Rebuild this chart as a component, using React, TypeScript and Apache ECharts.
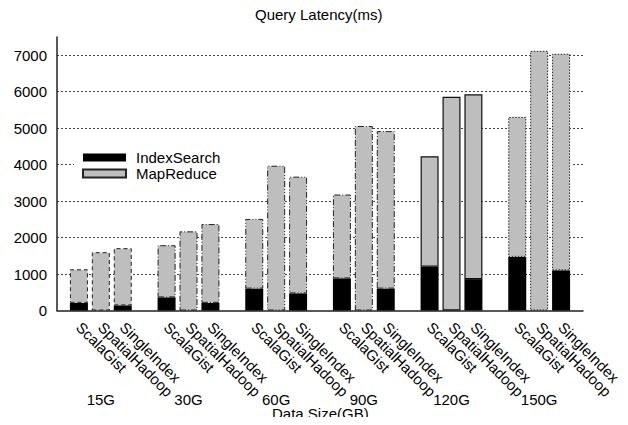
import React, { useEffect, useRef } from "react";
import * as echarts from "echarts";

const groups = ["15G", "30G", "60G", "90G", "120G", "150G"];
const methods = ["ScalaGist", "SpatialHadoop", "SingleIndex"];
// black lower segment (IndexSearch), per group: ScalaGist, SpatialHadoop, SingleIndex
const indexSearch = [210, 0, 140, 360, 0, 210, 600, 0, 470, 880, 0, 600, 1200, 0, 860, 1470, 0, 1100];
// gray upper segment (MapReduce)
const mapReduce = [920, 1600, 1570, 1430, 2170, 2160, 1910, 3970, 3200, 2300, 5060, 4320, 3030, 5860, 5070, 3840, 7120, 5940];
const yMax = 7500;
const yStep = 1000;

const FONT = "Liberation Sans, Arial, Helvetica, sans-serif";
const GRAY = "#bebebe";

// border dash pattern for each group's bars
const groupBorders: any[] = [
  { type: [4, 3], color: "#222", width: 1 },
  { type: [6, 2, 1, 2], color: "#222", width: 1 },
  { type: [6, 2, 1, 2, 1, 2], color: "#222", width: 1 },
  { type: [6, 2, 1, 2], color: "#222", width: 1 },
  { type: "solid", color: "#111", width: 1.2 },
  { type: [1.5, 1.5], color: "#222", width: 1 },
];

// category slots: a leading pad, then per group 3 bars + 1 gap
const categories: string[] = ["start"];
groups.forEach((g, gi) => {
  methods.forEach((m) => categories.push(g + "|" + m));
  categories.push("gap" + gi);
});

const slotOf = (i: number) => 1 + Math.floor(i / 3) * 4 + (i % 3);

export default function App() {
  const ref = useRef<HTMLDivElement>(null);
  useEffect(() => {
    if (!ref.current) return;
    const chart = echarts.init(ref.current, undefined, { renderer: "svg" });

    const idxData: any[] = categories.map(() => "-");
    const mrData: any[] = categories.map(() => "-");
    indexSearch.forEach((v, i) => {
      idxData[slotOf(i)] = { value: v, itemStyle: { color: "#000", borderWidth: 0 } };
    });
    mapReduce.forEach((v, i) => {
      const b = groupBorders[Math.floor(i / 3)];
      mrData[slotOf(i)] = {
        value: v,
        itemStyle: { color: GRAY, borderColor: b.color, borderWidth: b.width, borderType: b.type },
      };
    });

    const titleText = { fontSize: 15, lineHeight: 15, fontWeight: "normal", color: "#000", fontFamily: FONT };
    const option: any = {
      animation: false,
      textStyle: { fontFamily: FONT },
      title: [
        { text: "Query Latency(ms)", left: 255, top: 7, padding: 0, textStyle: titleText },
        { text: "Data Size(GB)", left: 272, top: 406, padding: 0, textStyle: titleText },
      ],
      legend: {
        orient: "vertical",
        left: 82,
        top: 150,
        padding: 0,
        itemGap: 1,
        itemWidth: 43,
        itemHeight: 8,
        icon: "rect",
        textStyle: { fontSize: 15, color: "#000", fontFamily: FONT, lineHeight: 14, padding: [0, 0, 0, 5] },
        data: ["IndexSearch", "MapReduce"],
      },
      grid: { left: 57, right: 45, top: 37, bottom: 114.5, containLabel: false, outerBoundsMode: "none" },
      xAxis: [
        {
          type: "category",
          data: categories,
          boundaryGap: false,
          axisLine: { show: true, onZero: false, lineStyle: { color: "#222", width: 1.5 } },
          axisTick: { show: false },
          splitLine: { show: false },
          axisLabel: {
            interval: 0,
            rotate: -45,
            margin: 14,
            fontSize: 15,
            color: "#000",
            fontFamily: FONT,
            formatter: (v: string) => (v.indexOf("|") >= 0 ? v.split("|")[1] : ""),
          },
        },
        {
          type: "category",
          data: categories,
          boundaryGap: false,
          position: "bottom",
          offset: 73,
          axisLine: { show: false },
          axisTick: { show: false },
          splitLine: { show: false },
          axisLabel: {
            interval: 0,
            margin: 8,
            fontSize: 15,
            lineHeight: 15,
            color: "#000",
            fontFamily: FONT,
            formatter: (v: string) =>
              v.indexOf("|" + methods[1]) >= 0 ? v.split("|")[0] : "",
          },
        },
      ],
      yAxis: {
        type: "value",
        min: 0,
        max: yMax,
        interval: yStep,
        axisLine: { show: true, onZero: false, lineStyle: { color: "#222", width: 1.5 } },
        axisTick: { show: false },
        axisLabel: {
          fontSize: 15,
          color: "#000",
          margin: 10,
          fontFamily: FONT,
          showMaxLabel: false,
          formatter: (v: number) => String(v),
        },
        splitLine: {
          show: true,
          showMaxLine: false,
          showMinLine: false,
          lineStyle: { type: [2, 2], color: "#444", width: 1 },
        },
      },
      graphic: [
        {
          type: "rect",
          z: 1,
          silent: true,
          shape: { x: 74, y: 150, width: 498, height: 30 },
          style: { fill: "#fff" },
        },
      ],
      series: [
        {
          name: "IndexSearch",
          type: "bar",
          stack: "total",
          xAxisIndex: 0,
          barWidth: 18,
          itemStyle: { color: "#000" },
          data: idxData,
        },
        {
          name: "MapReduce",
          type: "bar",
          stack: "total",
          xAxisIndex: 0,
          barWidth: 18,
          itemStyle: { color: GRAY, borderColor: "#222", borderWidth: 1, borderType: [4, 3] },
          data: mrData,
        },
      ],
    };
    chart.setOption(option);
    return () => chart.dispose();
  }, []);
  return <div ref={ref} style={{ width: 628, height: 425, margin: -8 }} />;
}
